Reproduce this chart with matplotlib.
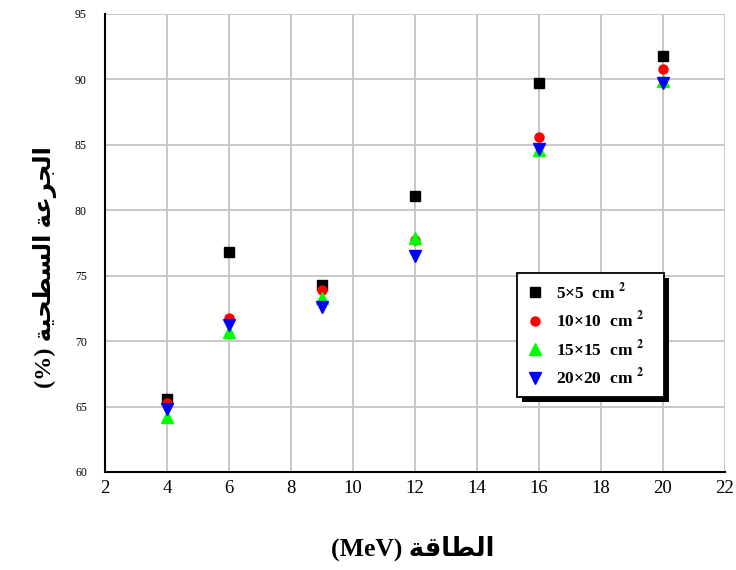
import matplotlib
matplotlib.use("Agg")
import matplotlib.pyplot as plt
from matplotlib.patches import Rectangle

# Beam energies (MeV) and surface dose (%) per field size
energy = [4, 6, 9, 12, 16, 20]
dose_5x5 = [65.6, 76.8, 74.3, 81.1, 89.7, 91.8]
dose_10x10 = [65.3, 71.8, 73.9, 77.7, 85.6, 90.8]
dose_15x15 = [64.2, 70.7, 73.3, 77.9, 84.6, 89.9]
dose_20x20 = [64.8, 71.2, 72.6, 76.5, 84.7, 89.7]

labels = ["5×5  cm $^{\\mathbf{2}}$", "10×10  cm $^{\\mathbf{2}}$",
          "15×15  cm $^{\\mathbf{2}}$", "20×20  cm $^{\\mathbf{2}}$"]
xticks = [2, 4, 6, 8, 10, 12, 14, 16, 18, 20, 22]
yticks = [60, 65, 70, 75, 80, 85, 90, 95]

# Arabic axis titles, pre-shaped with presentation forms in visual order
ar_energy = "\uFE94\uFED7\uFE8E\uFEC4\uFEDF\uFE8D"            # الطاقة
ar_dose = "\uFE94\uFECB\uFEAE\uFEA0\uFEDF\uFE8D"              # الجرعة
ar_surface = "\uFE94\uFEF4\uFEA4\uFEC4\uFEB4\uFEDF\uFE8D"     # السطحية
xlabel = "(MeV) " + ar_energy
ylabel = "(%) " + ar_surface + " " + ar_dose

plt.rcParams["mathtext.fontset"] = "stix"
fam = ["Liberation Serif", "DejaVu Sans"]

fig = plt.figure(figsize=(7.36, 5.70), dpi=100)
ax = fig.add_axes([105 / 736, 1 - 472 / 570, 620 / 736, 458 / 570])

ax.plot(energy, dose_5x5, "s", color="black", ms=6.5, label=labels[0], zorder=3)
ax.plot(energy, dose_10x10, "o", color="red", ms=6.5, label=labels[1], zorder=4)
ax.plot(energy, dose_15x15, "^", color="#00ff00", ms=8, label=labels[2], zorder=5)
ax.plot(energy, dose_20x20, "v", color="blue", ms=8, label=labels[3], zorder=6)

ax.set_xlim(2, 22)
ax.set_ylim(60, 95)
ax.set_xticks(xticks)
ax.set_yticks(yticks)
ax.grid(True, color="#c8c8c8", lw=1.4)
ax.set_axisbelow(True)
for s in ["top", "right"]:
    ax.spines[s].set_visible(False)
for s in ["left", "bottom"]:
    ax.spines[s].set_linewidth(1.5)
    ax.spines[s].set_color("black")
ax.tick_params(axis="both", length=0)
ax.tick_params(axis="x", pad=6)
ax.tick_params(axis="y", pad=13)
for t in ax.get_xticklabels():
    t.set_fontfamily(fam)
    t.set_fontsize(13.5)
for t in ax.get_yticklabels():
    t.set_fontfamily(fam)
    t.set_fontsize(8.5)

fig.text(413 / 736, 1 - 548 / 570, xlabel, ha="center", va="center",
         fontsize=18.5, fontweight="bold", family=fam)
fig.text(45 / 736, 1 - 267 / 570, ylabel, ha="center", va="center",
         rotation=90, fontsize=17.5, fontweight="bold", family=fam)

leg = ax.legend(loc="upper left", bbox_to_anchor=(0.665, 0.168, 0.237, 0.2665),
                mode="expand", borderaxespad=0, frameon=True, fancybox=False,
                prop={"family": fam, "weight": "bold", "size": 12.5},
                labelspacing=0.45, handletextpad=0.75, borderpad=0.5,
                handlelength=1.0)
leg.get_frame().set_edgecolor("black")
leg.get_frame().set_linewidth(1.3)
leg.get_frame().set_alpha(1)
leg.set_zorder(10)

# Solid drop shadow behind the legend frame
fig.canvas.draw()
bb = leg.get_window_extent()
shadow = Rectangle((bb.x0 + 5, bb.y0 - 5), bb.width, bb.height,
                   facecolor="black", edgecolor="none", zorder=9)
shadow.set_transform(matplotlib.transforms.IdentityTransform())
ax.add_artist(shadow)
shadow.set_clip_on(False)

fig.savefig("out.png", dpi=100)
